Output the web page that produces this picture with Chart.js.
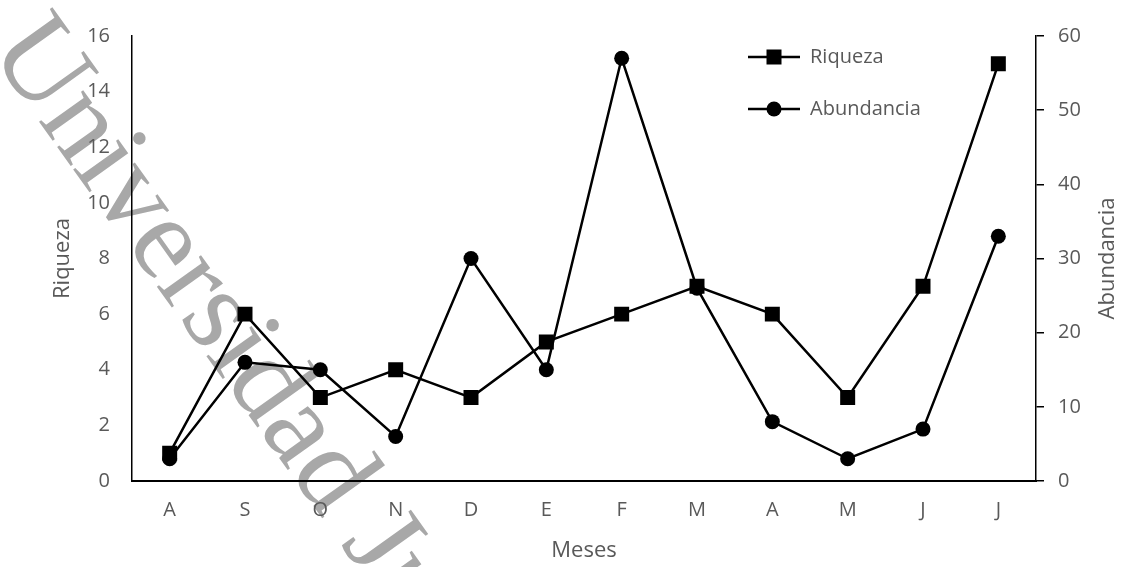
<!DOCTYPE html>
<html>
<head>
<meta charset="utf-8">
<title>Riqueza y Abundancia por mes</title>
<script src="https://cdn.jsdelivr.net/npm/chart.js@4/dist/chart.umd.min.js"></script>
<style>
  html, body { margin: 0; padding: 0; background: #ffffff; }
  #wrap { width: 1125px; height: 567px; position: relative; }
</style>
</head>
<body>
<div id="wrap"><canvas id="chart" width="1125" height="567"></canvas></div>
<script>
// Months (August to July)
const meses = ['A', 'S', 'O', 'N', 'D', 'E', 'F', 'M', 'A', 'M', 'J', 'J'];
// Number of species per month
const riqueza = [1, 6, 3, 4, 3, 5, 6, 7, 6, 3, 7, 15];
// Number of individuals per month
const abundancia = [3, 16, 15, 6, 30, 15, 57, 26, 8, 3, 7, 33];

const INK = '#000000';
const TEXT = '#595959';
const FONT = "'Open Sans', 'Liberation Sans', sans-serif";

// Small legend swatch: a line segment with the series marker in the middle
function swatch(shape) {
  const c = document.createElement('canvas');
  c.width = 52; c.height = 18;
  const g = c.getContext('2d');
  g.strokeStyle = INK; g.fillStyle = INK; g.lineWidth = 2.5;
  g.beginPath(); g.moveTo(0, 9); g.lineTo(52, 9); g.stroke();
  if (shape === 'rect') {
    g.fillRect(26 - 7.5, 9 - 7.5, 15, 15);
  } else {
    g.beginPath(); g.arc(26, 9, 7.5, 0, Math.PI * 2); g.fill();
  }
  return c;
}
const swatches = [swatch('rect'), swatch('circle')];

// Faint institutional text behind the plot
const watermark = {
  id: 'watermark',
  beforeDraw(chart) {
    const ctx = chart.ctx;
    ctx.save();
    ctx.translate(-12, 50);
    ctx.rotate(54.5 * Math.PI / 180);
    ctx.font = "118px 'Liberation Serif', 'DejaVu Serif', serif";
    ctx.fillStyle = '#a8a8a8';
    ctx.textBaseline = 'alphabetic';
    ctx.fillText('Universidad Juárez', 0, 0);
    ctx.restore();
  }
};

// Place the legend in the upper right corner of the plot area
const legendCorner = {
  id: 'legendCorner',
  afterLayout(chart) {
    const lg = chart.legend;
    if (!lg) return;
    const pad = lg.options.labels.padding;
    lg.left = 748 - pad;
    lg.top = 47 - pad;
  }
};

// Right axis title, read from bottom to top like the left one
const rightTitle = {
  id: 'rightTitle',
  afterDraw(chart) {
    const s = chart.scales.y1;
    const ctx = chart.ctx;
    ctx.save();
    ctx.translate(1108, (s.top + s.bottom) / 2);
    ctx.rotate(-Math.PI / 2);
    ctx.font = "22px " + FONT;
    ctx.fillStyle = TEXT;
    ctx.textAlign = 'center';
    ctx.textBaseline = 'middle';
    ctx.fillText('Abundancia', 0, 0);
    ctx.restore();
  }
};

new Chart(document.getElementById('chart'), {
  type: 'line',
  data: {
    labels: meses,
    datasets: [
      {
        label: 'Riqueza',
        data: riqueza,
        yAxisID: 'y',
        borderColor: INK,
        backgroundColor: INK,
        borderWidth: 2.5,
        pointStyle: 'rect',
        pointRadius: 10.6,
        pointBorderWidth: 0,
        pointBackgroundColor: INK,
        tension: 0,
        fill: false
      },
      {
        label: 'Abundancia',
        data: abundancia,
        yAxisID: 'y1',
        borderColor: INK,
        backgroundColor: INK,
        borderWidth: 2.5,
        pointStyle: 'circle',
        pointRadius: 7.5,
        pointBorderWidth: 0,
        pointBackgroundColor: INK,
        tension: 0,
        fill: false
      }
    ]
  },
  options: {
    responsive: false,
    animation: false,
    layout: { padding: { top: 36, left: 0, right: 0, bottom: 0 } },
    plugins: {
      tooltip: { enabled: false },
      legend: {
        display: true,
        position: 'chartArea',
        align: 'start',
        labels: {
          usePointStyle: true,
          pointStyleWidth: 52,
          padding: 32,
          color: TEXT,
          font: { family: FONT, size: 20 },
          generateLabels(chart) {
            return chart.data.datasets.map((ds, i) => ({
              text: ds.label,
              pointStyle: swatches[i],
              fillStyle: INK,
              strokeStyle: INK,
              lineWidth: 0,
              fontColor: TEXT,
              hidden: false,
              datasetIndex: i
            }));
          }
        }
      }
    },
    scales: {
      x: {
        position: 'bottom',
        offset: true,
        afterFit(scale) { scale.height = 86; },
        grid: { display: false, drawTicks: false },
        border: { display: true, color: INK, width: 2 },
        ticks: { color: TEXT, padding: 17, font: { family: FONT, size: 20 } },
        title: {
          display: true, text: 'Meses', color: TEXT,
          font: { family: FONT, size: 22 }, padding: { top: 0, bottom: 3 }
        }
      },
      y: {
        position: 'left',
        min: 0, max: 16,
        afterFit(scale) { scale.width = 132; },
        grid: { display: false, drawTicks: false },
        border: { display: true, color: INK, width: 1.5 },
        ticks: { stepSize: 2, color: TEXT, padding: 22, font: { family: FONT, size: 20 } },
        title: {
          display: true, text: 'Riqueza', color: TEXT,
          font: { family: FONT, size: 22 }, padding: { top: 50, bottom: 0 }
        }
      },
      y1: {
        position: 'right',
        min: 0, max: 60,
        afterFit(scale) { scale.width = 89; },
        grid: {
          display: true, drawOnChartArea: false, drawTicks: true,
          tickLength: 8, color: INK, lineWidth: 1.5
        },
        border: { display: true, color: INK, width: 1.5 },
        ticks: { stepSize: 10, color: TEXT, padding: 14, font: { family: FONT, size: 20 } },
        title: { display: false, text: 'Abundancia' }
      }
    }
  },
  plugins: [watermark, legendCorner, rightTitle]
});
</script>
</body>
</html>
